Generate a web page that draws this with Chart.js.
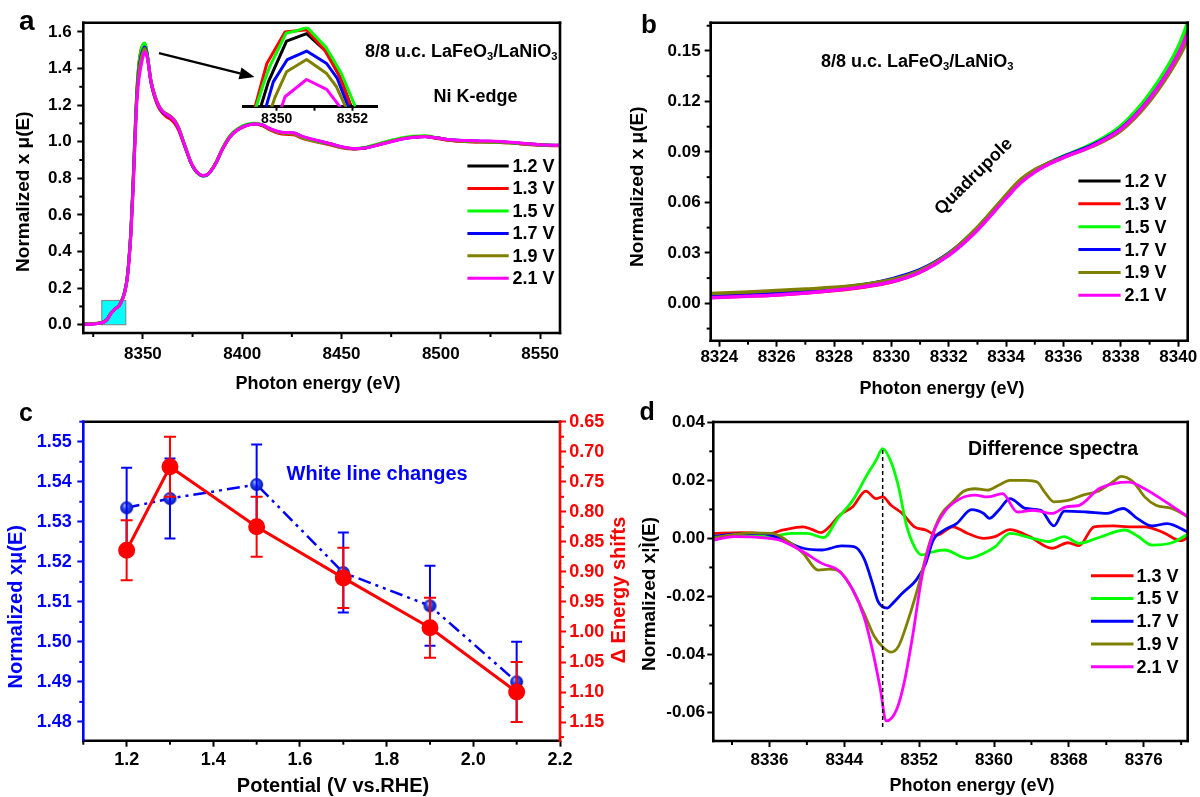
<!DOCTYPE html>
<html>
<head>
<meta charset="utf-8">
<script src="https://cdn.jsdelivr.net/npm/chart.js@4.4.1/dist/chart.umd.min.js"></script>
<style>
  body { margin: 0; background: #fff; }
  #wrap { position: relative; width: 1200px; height: 797px; overflow: hidden; background: #fff; }
  canvas { position: absolute; }
</style>
</head>
<body>
<div id="wrap">
  <canvas id="cA" width="600" height="400" style="left:0px;top:0px"></canvas>
  <canvas id="cInset" width="160" height="118" style="left:230px;top:15px"></canvas>
  <canvas id="cB" width="600" height="400" style="left:600px;top:0px"></canvas>
  <canvas id="cC" width="636" height="397" style="left:0px;top:400px"></canvas>
  <canvas id="cD" width="564" height="397" style="left:636px;top:400px"></canvas>
</div>
<script>
// ---- data ----
const legendLabels = ['1.2 V', '1.3 V', '1.5 V', '1.7 V', '1.9 V', '2.1 V'];
const lineColors = ['#000000', '#ff0000', '#00ff00', '#0000ff', '#808000', '#ff00ff'];

// panel a: Ni K-edge XANES
const aEnergy = [8320, 8324, 8328, 8330, 8332, 8334, 8336, 8338, 8340, 8341, 8342, 8343, 8344, 8345, 8346, 8347, 8348, 8349, 8350, 8350.8, 8351.5, 8352.5, 8354, 8356, 8358, 8360, 8362, 8364, 8366, 8368, 8370, 8372, 8374, 8376, 8378, 8380, 8382, 8384, 8387, 8390, 8394, 8398, 8402, 8406, 8410, 8414, 8418, 8422, 8426, 8430, 8435, 8440, 8445, 8450, 8456, 8462, 8468, 8474, 8480, 8486, 8492, 8498, 8505, 8512, 8520, 8530, 8540, 8550, 8560];
const a12 = [0.002, 0.004, 0.009, 0.0135, 0.029, 0.064, 0.087, 0.104, 0.150, 0.19, 0.25, 0.36, 0.52, 0.75, 1.03, 1.27, 1.41, 1.485, 1.52, 1.533, 1.515, 1.45, 1.33, 1.245, 1.19, 1.16, 1.145, 1.132, 1.11, 1.07, 1.01, 0.95, 0.89, 0.85, 0.826, 0.815, 0.818, 0.838, 0.89, 0.96, 1.03, 1.068, 1.088, 1.096, 1.09, 1.068, 1.052, 1.046, 1.044, 1.026, 1.01, 0.998, 0.985, 0.97, 0.962, 0.967, 0.984, 1.001, 1.016, 1.026, 1.029, 1.02, 1.008, 1.003, 1.0, 0.998, 0.99, 0.982, 0.979];
const a13 = [0.002, 0.0035, 0.0078, 0.0127, 0.0288, 0.0632, 0.0868, 0.104, 0.150, 0.19, 0.25, 0.36, 0.52, 0.76, 1.04, 1.29, 1.43, 1.50, 1.53, 1.536, 1.512, 1.44, 1.325, 1.24, 1.185, 1.155, 1.135, 1.122, 1.10, 1.062, 1.005, 0.945, 0.888, 0.848, 0.825, 0.815, 0.818, 0.838, 0.89, 0.958, 1.028, 1.066, 1.087, 1.095, 1.088, 1.064, 1.047, 1.04, 1.038, 1.02, 1.005, 0.993, 0.981, 0.967, 0.96, 0.965, 0.982, 0.999, 1.015, 1.025, 1.028, 1.018, 1.006, 1.001, 0.998, 0.996, 0.988, 0.98, 0.978];
const a15 = [0.003, 0.0058, 0.009, 0.014, 0.0295, 0.064, 0.0875, 0.1055, 0.1525, 0.193, 0.255, 0.37, 0.53, 0.77, 1.05, 1.285, 1.425, 1.495, 1.53, 1.539, 1.522, 1.46, 1.335, 1.25, 1.195, 1.165, 1.15, 1.137, 1.115, 1.075, 1.015, 0.952, 0.89, 0.85, 0.824, 0.812, 0.815, 0.836, 0.89, 0.963, 1.035, 1.074, 1.094, 1.101, 1.094, 1.07, 1.053, 1.046, 1.043, 1.024, 1.008, 0.996, 0.984, 0.97, 0.963, 0.969, 0.987, 1.005, 1.021, 1.03, 1.032, 1.022, 1.009, 1.003, 1.0, 0.997, 0.99, 0.982, 0.979];
const a17 = [0.003, 0.0052, 0.0088, 0.0145, 0.0298, 0.0638, 0.0872, 0.1038, 0.1475, 0.185, 0.245, 0.355, 0.51, 0.74, 1.01, 1.26, 1.395, 1.465, 1.50, 1.517, 1.506, 1.452, 1.335, 1.25, 1.195, 1.162, 1.146, 1.133, 1.112, 1.072, 1.012, 0.95, 0.89, 0.849, 0.824, 0.813, 0.816, 0.836, 0.888, 0.958, 1.03, 1.068, 1.089, 1.097, 1.092, 1.07, 1.055, 1.049, 1.047, 1.029, 1.013, 1.0, 0.987, 0.972, 0.962, 0.966, 0.982, 0.998, 1.014, 1.024, 1.028, 1.021, 1.01, 1.006, 1.003, 1.0, 0.992, 0.983, 0.98];
const a19 = [0.004, 0.0065, 0.0095, 0.014, 0.0295, 0.0645, 0.0868, 0.1025, 0.1455, 0.182, 0.24, 0.35, 0.505, 0.73, 1.0, 1.25, 1.38, 1.45, 1.488, 1.509, 1.497, 1.448, 1.34, 1.255, 1.2, 1.168, 1.152, 1.14, 1.118, 1.078, 1.016, 0.953, 0.892, 0.851, 0.826, 0.815, 0.818, 0.838, 0.89, 0.96, 1.031, 1.069, 1.089, 1.097, 1.091, 1.069, 1.053, 1.047, 1.045, 1.027, 1.011, 0.999, 0.986, 0.971, 0.962, 0.967, 0.984, 1.0, 1.016, 1.026, 1.03, 1.021, 1.009, 1.004, 1.001, 0.999, 0.991, 0.983, 0.98];
const a21 = [0.002, 0.0033, 0.0078, 0.0128, 0.0285, 0.0625, 0.0866, 0.1035, 0.148, 0.183, 0.24, 0.345, 0.495, 0.72, 0.99, 1.22, 1.34, 1.41, 1.46, 1.49, 1.484, 1.445, 1.335, 1.25, 1.196, 1.165, 1.148, 1.135, 1.113, 1.073, 1.012, 0.952, 0.892, 0.852, 0.827, 0.816, 0.818, 0.836, 0.887, 0.957, 1.028, 1.067, 1.088, 1.097, 1.093, 1.071, 1.056, 1.05, 1.048, 1.03, 1.014, 1.001, 0.987, 0.972, 0.963, 0.966, 0.981, 0.997, 1.013, 1.023, 1.027, 1.02, 1.01, 1.006, 1.004, 1.001, 0.993, 0.984, 0.98];
const aXTicks = [8350, 8400, 8450, 8500, 8550];
const aYTicks = [0.0, 0.2, 0.4, 0.6, 0.8, 1.0, 1.2, 1.4, 1.6];
const aBoxX = [8329.3, 8341.4];   // highlighted pre-edge region
const aBoxY = [0.0, 0.133];

// inset of panel a (white line peak)
const insXTicks = [8350, 8351, 8352];
const ins12E = [8349.58, 8349.78, 8350.26, 8350.79, 8351.32, 8351.67, 8351.97];
const ins12 = [1.4645, 1.4878, 1.526, 1.533, 1.516, 1.4925, 1.4645];
const ins13E = [8349.43, 8349.74, 8350.22, 8350.79, 8351.27, 8351.67, 8351.93];
const ins13 = [1.4645, 1.505, 1.5345, 1.5367, 1.5174, 1.4925, 1.4676];
const ins15E = [8349.46, 8349.65, 8349.81, 8350.25, 8350.5, 8350.8, 8351.3, 8351.71, 8352.06];
const ins15 = [1.4645, 1.486, 1.5018, 1.5335, 1.5354, 1.539, 1.5205, 1.4956, 1.466];
const ins17E = [8349.72, 8349.91, 8350.28, 8350.79, 8351.32, 8351.6, 8351.89];
const ins17 = [1.4645, 1.4878, 1.5087, 1.5167, 1.505, 1.491, 1.4645];
const ins19E = [8349.87, 8349.96, 8350.26, 8350.79, 8351.32, 8351.58, 8351.82];
const ins19 = [1.4645, 1.4738, 1.4972, 1.5087, 1.4956, 1.4832, 1.4645];
const ins21E = [8350.13, 8350.22, 8350.79, 8351.32, 8351.67];
const ins21 = [1.4645, 1.4738, 1.490, 1.4807, 1.4645];

// panel b: pre-edge (quadrupole)
const bEnergy = [8323.7, 8325, 8326, 8327, 8328, 8329, 8330, 8331, 8332, 8333, 8334, 8334.5, 8335, 8335.5, 8336, 8337, 8338, 8339, 8340, 8340.33];
const b12 = [0.0045, 0.0055, 0.0062, 0.0072, 0.0085, 0.0105, 0.0135, 0.019, 0.0292, 0.0445, 0.0638, 0.0725, 0.079, 0.0835, 0.0872, 0.0942, 0.1045, 0.123, 0.1505, 0.1638];
const b13 = [0.0035, 0.0043, 0.0050, 0.0061, 0.0076, 0.0096, 0.0126, 0.0185, 0.029, 0.044, 0.063, 0.072, 0.0785, 0.083, 0.087, 0.094, 0.104, 0.1225, 0.150, 0.1635];
const b15 = [0.0048, 0.0058, 0.0066, 0.0076, 0.009, 0.011, 0.014, 0.0195, 0.0295, 0.045, 0.064, 0.0728, 0.079, 0.0835, 0.0875, 0.0948, 0.1055, 0.1245, 0.1525, 0.1668];
const b17 = [0.0042, 0.0052, 0.006, 0.0072, 0.0088, 0.011, 0.0145, 0.02, 0.0298, 0.0448, 0.0638, 0.0725, 0.0788, 0.0833, 0.0872, 0.094, 0.1038, 0.1215, 0.1475, 0.159];
const b19 = [0.0058, 0.0068, 0.0076, 0.0085, 0.0095, 0.0112, 0.014, 0.0195, 0.0295, 0.0452, 0.0645, 0.0735, 0.0795, 0.0835, 0.0868, 0.0932, 0.1025, 0.120, 0.1455, 0.1565];
const b21 = [0.0033, 0.0042, 0.005, 0.0062, 0.0078, 0.0098, 0.0128, 0.0185, 0.0285, 0.0435, 0.0625, 0.0715, 0.078, 0.0828, 0.0866, 0.0935, 0.1035, 0.1215, 0.148, 0.1605];
const bXTicks = [8324, 8326, 8328, 8330, 8332, 8334, 8336, 8338, 8340];
const bYTicks = [0.00, 0.03, 0.06, 0.09, 0.12, 0.15];

// panel c: white line intensity and edge energy shift vs potential
const cPotential = [1.2, 1.3, 1.5, 1.7, 1.9, 2.1];
const cWhiteLine = [1.5335, 1.5358, 1.5393, 1.5173, 1.509, 1.490];
const cWhiteErr = [0.01, 0.01, 0.01, 0.01, 0.01, 0.01];
const cShift = [0.864, 0.725, 0.825, 0.910, 0.993, 1.100];
const cShiftErr = [0.05, 0.05, 0.05, 0.05, 0.05, 0.05];
const cXTicks = [1.2, 1.4, 1.6, 1.8, 2.0, 2.2];
const cYTicks = [1.48, 1.49, 1.50, 1.51, 1.52, 1.53, 1.54, 1.55];
const cY2Ticks = [0.65, 0.70, 0.75, 0.80, 0.85, 0.90, 0.95, 1.00, 1.05, 1.10, 1.15];

// panel d: difference spectra
const d13E = [8330, 8333, 8336, 8337.5, 8339.6, 8340.6, 8341.5, 8342.4, 8343.5, 8344.9, 8346.3, 8347.4, 8348.1, 8349, 8350.2, 8351.5, 8352.7, 8353.9, 8355.6, 8357.2, 8358.9, 8360.1, 8361.7, 8363.8, 8366.2, 8367.9, 8369.1, 8370.7, 8372.8, 8374.4, 8376.1, 8378.1, 8380, 8381];
const d13 = [0.0017, 0.002, 0.0017, 0.0029, 0.004, 0.003, 0.002, 0.004, 0.008, 0.0109, 0.0163, 0.0137, 0.0143, 0.0114, 0.0086, 0.004, 0.0029, 0.0011, 0.004, 0.0017, 0.0, 0.0006, 0.003, 0.0006, -0.0034, -0.0015, -0.0025, 0.004, 0.0043, 0.004, 0.004, 0.002, -0.0008, 0.0011];
const d15E = [8330, 8334.2, 8336, 8338.3, 8340, 8341.8, 8343.3, 8344.9, 8346.5, 8347.4, 8348.1, 8349, 8349.8, 8350.6, 8351.5, 8352.3, 8353.5, 8354.7, 8357.2, 8358.9, 8360.1, 8361.7, 8363.8, 8365.8, 8367.5, 8369.1, 8371.2, 8374, 8375.3, 8376.9, 8379, 8381];
const d15 = [0.0006, 0.001, 0.0006, 0.0017, 0.0017, 0.0003, 0.0069, 0.0131, 0.0223, 0.0269, 0.0309, 0.0263, 0.0177, 0.0051, -0.0029, -0.0057, -0.0046, -0.004, -0.0069, -0.0051, -0.0029, 0.0017, 0.0003, -0.0011, 0.0006, -0.0017, 0.0003, 0.0029, 0.0009, -0.0023, -0.0015, 0.002];
const d17E = [8330, 8332.2, 8335.1, 8337.1, 8339.6, 8341.6, 8343.7, 8345.1, 8346.1, 8347, 8347.6, 8348.6, 8349.2, 8350.2, 8351.7, 8352.7, 8353.5, 8354.7, 8356, 8357.6, 8358.9, 8359.5, 8360.5, 8361.7, 8363.4, 8365, 8366.4, 8367.5, 8369.9, 8372, 8373.8, 8375.3, 8376.9, 8378.5, 8381];
const d17 = [0.0006, 0.0015, 0.0017, 0.0, -0.0034, -0.004, -0.0026, -0.0029, -0.0069, -0.0154, -0.0217, -0.024, -0.0223, -0.0189, -0.0143, -0.0086, -0.0006, 0.0029, 0.0051, 0.0099, 0.0086, 0.0069, 0.0097, 0.0137, 0.0103, 0.0097, 0.0043, 0.0094, 0.0091, 0.0086, 0.0103, 0.0069, 0.0043, 0.0051, 0.0017];
const d19E = [8330, 8334.2, 8336.3, 8338.3, 8339.6, 8341.2, 8342.4, 8343.5, 8344.9, 8346.1, 8347.2, 8348.2, 8349, 8349.8, 8350.6, 8351.9, 8353.1, 8354.3, 8355.6, 8356.8, 8358, 8359.3, 8360.5, 8361.7, 8363.4, 8364.6, 8365.4, 8366.4, 8367.9, 8369.5, 8371.2, 8372.8, 8373.6, 8374.9, 8376.1, 8377.3, 8379, 8381];
const d19 = [0.0003, 0.0019, 0.0017, -0.0017, -0.0051, -0.0109, -0.0106, -0.0114, -0.0177, -0.0257, -0.0337, -0.0377, -0.0392, -0.0371, -0.0303, -0.0166, -0.0017, 0.008, 0.0126, 0.0163, 0.0171, 0.0166, 0.0183, 0.02, 0.02, 0.0194, 0.016, 0.0126, 0.0131, 0.0149, 0.0163, 0.0197, 0.0214, 0.0194, 0.0143, 0.0114, 0.0103, 0.0069];
const d21E = [8330, 8332.2, 8335.1, 8337.1, 8339.6, 8341.6, 8343.5, 8344.9, 8346.1, 8347, 8347.8, 8348.5, 8349.6, 8350.4, 8351.3, 8352.3, 8353.5, 8354.7, 8356.4, 8358, 8359.3, 8360.9, 8362.5, 8364.2, 8366.2, 8367.7, 8369.1, 8371.2, 8372.8, 8374.4, 8376.1, 8378.1, 8381];
const d21 = [-0.0006, 0.0006, 0.0003, -0.0006, -0.0046, -0.0086, -0.0114, -0.0177, -0.0269, -0.0383, -0.0509, -0.0629, -0.0589, -0.0497, -0.0337, -0.0131, 0.0017, 0.0091, 0.0137, 0.0149, 0.0143, 0.0154, 0.0091, 0.0097, 0.0086, 0.0109, 0.0114, 0.0171, 0.0189, 0.0194, 0.0171, 0.0131, 0.0069];
const dXTicks = [8336, 8344, 8352, 8360, 8368, 8376];
const dYTicks = [-0.06, -0.04, -0.02, 0.00, 0.02, 0.04];
const dPeakLineX = 8348.1;
const dPeakLineY = [-0.065, 0.031];

// ---- helpers ----
const FONT = '"Liberation Sans", Arial, Helvetica, sans-serif';
Chart.defaults.font.family = FONT;
Chart.defaults.font.weight = 'bold';
Chart.defaults.color = '#000';

function lineSet(label, xs, ys, color, width, order) {
  return {
    label, data: xs.map((x, j) => ({ x, y: ys[j] })),
    borderColor: color, backgroundColor: color, borderWidth: width,
    pointRadius: 0, fill: false, order,
    cubicInterpolationMode: 'monotone', borderJoinStyle: 'round', borderCapStyle: 'round'
  };
}

function axisCfg(o) {
  const horiz = o.pos === 'bottom';
  return {
    type: 'linear', position: o.pos, min: o.min, max: o.max, reverse: !!o.reverse,
    afterBuildTicks: s => { s.ticks = o.ticks.map(v => ({ value: v })); },
    afterFit: s => { if (horiz) s.height = o.size; else s.width = o.size; },
    border: { display: false },
    grid: { drawOnChartArea: false, drawTicks: true, tickLength: o.tl || 6, tickWidth: 2, tickColor: o.color || '#000' },
    ticks: {
      color: o.color || '#000', padding: o.pad, autoSkip: false, maxRotation: 0,
      font: { size: o.font || 17, weight: 'bold' }, callback: o.fmt
    },
    title: { display: false }
  };
}

function baseOpts(padding, scales) {
  return {
    responsive: false, animation: false, devicePixelRatio: 1,
    layout: { padding },
    plugins: { legend: { display: false }, tooltip: { enabled: false } },
    scales
  };
}

function drawText(ctx, t, ox, oy) {
  const runs = typeof t.text === 'string' ? [{ t: t.text }] : t.text;
  const size = t.size;
  const fontOf = r => `bold ${r.sub ? size * 0.62 : size}px ${FONT}`;
  ctx.save();
  ctx.translate(t.x - ox, t.y - oy);
  if (t.rot) ctx.rotate(t.rot * Math.PI / 180);
  ctx.fillStyle = t.color || '#000';
  ctx.textBaseline = t.base || 'middle';
  ctx.textAlign = 'left';
  let total = 0;
  runs.forEach(r => { ctx.font = fontOf(r); total += ctx.measureText(r.t).width; });
  let cx = t.align === 'center' ? -total / 2 : 0;
  runs.forEach(r => {
    ctx.font = fontOf(r);
    ctx.fillText(r.t, cx, r.sub ? size * 0.3 : 0);
    cx += ctx.measureText(r.t).width;
  });
  ctx.restore();
}

// frame, minor ticks, legend, labels, error bars drawn on top of the chart
function decor(cfg) {
  const ox = cfg.ox || 0, oy = cfg.oy || 0;
  return {
    id: 'decor',
    beforeDatasetsDraw(chart) {
      if (!cfg.box) return;
      const { x, y } = chart.scales, ctx = chart.ctx;
      const x0 = x.getPixelForValue(cfg.box.x[0]), x1 = x.getPixelForValue(cfg.box.x[1]);
      const y0 = y.getPixelForValue(cfg.box.y[1]), y1 = y.getPixelForValue(cfg.box.y[0]);
      ctx.save();
      ctx.fillStyle = '#00ffff';
      ctx.fillRect(x0, y0, x1 - x0, y1 - y0);
      ctx.strokeStyle = '#808080'; ctx.lineWidth = 1;
      ctx.strokeRect(x0, y0, x1 - x0, y1 - y0);
      ctx.restore();
    },
    afterDatasetDraw(chart, args) {
      const e = cfg.errors && cfg.errors[args.index];
      if (!e) return;
      const meta = args.meta, ys = meta.yScale, ctx = chart.ctx;
      const ds = chart.data.datasets[args.index];
      ctx.save();
      ctx.strokeStyle = e.color; ctx.lineWidth = 2;
      meta.data.forEach((pt, j) => {
        const v = ds.data[j].y;
        const yt = ys.getPixelForValue(v + e.err[j]), yb = ys.getPixelForValue(v - e.err[j]);
        ctx.beginPath();
        ctx.moveTo(pt.x, yt); ctx.lineTo(pt.x, yb);
        ctx.moveTo(pt.x - e.cap, yt); ctx.lineTo(pt.x + e.cap, yt);
        ctx.moveTo(pt.x - e.cap, yb); ctx.lineTo(pt.x + e.cap, yb);
        ctx.stroke();
      });
      ctx.restore();
    },
    afterDatasetsDraw(chart) {
      const ctx = chart.ctx, { x, y } = chart.scales;
      if (cfg.vline) {
        const px = x.getPixelForValue(cfg.vline.x);
        ctx.save();
        ctx.strokeStyle = '#000'; ctx.lineWidth = 1.5; ctx.setLineDash([4, 3]);
        ctx.beginPath();
        ctx.moveTo(px, y.getPixelForValue(cfg.vline.y[0]));
        ctx.lineTo(px, y.getPixelForValue(cfg.vline.y[1]));
        ctx.stroke();
        ctx.restore();
      }
      if (cfg.arrow) {
        const a = cfg.arrow;
        const x0 = x.getPixelForValue(a.from[0]), y0 = y.getPixelForValue(a.from[1]);
        const x1 = x.getPixelForValue(a.to[0]), y1 = y.getPixelForValue(a.to[1]);
        const ang = Math.atan2(y1 - y0, x1 - x0), hl = 15, hw = 6;
        ctx.save();
        ctx.strokeStyle = '#000'; ctx.fillStyle = '#000'; ctx.lineWidth = 2.2;
        ctx.beginPath();
        ctx.moveTo(x0, y0);
        ctx.lineTo(x1 - hl * Math.cos(ang), y1 - hl * Math.sin(ang));
        ctx.stroke();
        ctx.beginPath();
        ctx.moveTo(x1, y1);
        ctx.lineTo(x1 - hl * Math.cos(ang) + hw * Math.sin(ang), y1 - hl * Math.sin(ang) - hw * Math.cos(ang));
        ctx.lineTo(x1 - hl * Math.cos(ang) - hw * Math.sin(ang), y1 - hl * Math.sin(ang) + hw * Math.cos(ang));
        ctx.closePath();
        ctx.fill();
        ctx.restore();
      }
    },
    afterDraw(chart) {
      const ctx = chart.ctx, a = chart.chartArea;
      ctx.save();
      if (cfg.frame) {
        const f = cfg.frame;
        ctx.lineWidth = 2.6; ctx.lineCap = 'square';
        const side = (x0, y0, x1, y1, c) => {
          ctx.strokeStyle = c; ctx.beginPath(); ctx.moveTo(x0, y0); ctx.lineTo(x1, y1); ctx.stroke();
        };
        side(a.left, a.top, a.right, a.top, f.top || '#000');
        side(a.left, a.bottom, a.right, a.bottom, f.bottom || '#000');
        side(a.right, a.top, a.right, a.bottom, f.right || '#000');
        side(a.left, a.top, a.left, a.bottom, f.left || '#000');
      }
      (cfg.minor || []).forEach(m => {
        const s = chart.scales[m.id];
        ctx.strokeStyle = m.color || '#000'; ctx.lineWidth = 2; ctx.lineCap = 'butt';
        for (let k = 0; ; k++) {
          const v = m.from + k * m.step;
          if (v > Math.max(s.min, s.max) + 1e-9) break;
          if (v < Math.min(s.min, s.max) - 1e-9) continue;
          const p = s.getPixelForValue(v);
          ctx.beginPath();
          if (s.position === 'bottom') { ctx.moveTo(p, a.bottom); ctx.lineTo(p, a.bottom + 4); }
          else if (s.position === 'left') { ctx.moveTo(a.left, p); ctx.lineTo(a.left - 4, p); }
          else { ctx.moveTo(a.right, p); ctx.lineTo(a.right + 4, p); }
          ctx.stroke();
        }
      });
      if (cfg.legend) {
        const L = cfg.legend;
        chart.data.datasets.forEach((ds, i) => {
          const yy = L.y0 + i * L.dy - oy;
          ctx.strokeStyle = ds.borderColor; ctx.lineWidth = 3; ctx.lineCap = 'butt';
          ctx.beginPath(); ctx.moveTo(L.x0 - ox, yy); ctx.lineTo(L.x1 - ox, yy); ctx.stroke();
          ctx.fillStyle = '#000'; ctx.font = `bold ${L.size}px ${FONT}`;
          ctx.textBaseline = 'middle'; ctx.textAlign = 'left';
          ctx.fillText(ds.label, L.tx - ox, yy + 1);
        });
      }
      ctx.restore();
      (cfg.texts || []).forEach(t => drawText(ctx, t, ox, oy));
    }
  };
}

const oxide = [{ t: '8/8 u.c. LaFeO' }, { t: '3', sub: true }, { t: '/LaNiO' }, { t: '3', sub: true }];

// ---- panel a ----
const aSeries = [a12, a13, a15, a17, a19, a21];
new Chart(document.getElementById('cA'), {
  type: 'line',
  data: { datasets: aSeries.map((v, i) => lineSet(legendLabels[i], aEnergy, v, lineColors[i], 3, aSeries.length - i)) },
  options: baseOpts({ left: 0, top: 22.7, right: 40, bottom: 0 }, {
    x: axisCfg({ pos: 'bottom', min: 8320, max: 8560, ticks: aXTicks, size: 67, pad: 5, fmt: v => String(v) }),
    y: axisCfg({ pos: 'left', min: -0.045, max: 1.65, ticks: aYTicks, size: 83.3, pad: 5.6, fmt: v => v.toFixed(1) })
  }),
  plugins: [decor({
    frame: {},
    box: { x: aBoxX, y: aBoxY },
    arrow: { from: [8358.1, 1.484], to: [8406.2, 1.353] },
    minor: [{ id: 'x', from: 8325, step: 50 }, { id: 'y', from: 0.1, step: 0.2 }],
    legend: { x0: 467.4, x1: 508.7, tx: 512.5, y0: 166, dy: 22.46, size: 18 },
    texts: [
      { text: 'a', x: 19, y: 29.5, size: 28, base: 'alphabetic' },
      { text: oxide, x: 365, y: 51.7, size: 18 },
      { text: 'Ni K-edge', x: 433.4, y: 97.3, size: 18 },
      { text: 'Normalized x \u03bc(E)', x: 23.5, y: 191.7, size: 19, rot: -90, align: 'center' },
      { text: 'Photon energy (eV)', x: 318, y: 384, size: 18, align: 'center' }
    ]
  })]
});

// inset: zoom on the white line
const insSeries = [[ins12E, ins12], [ins13E, ins13], [ins15E, ins15], [ins17E, ins17], [ins19E, ins19], [ins21E, ins21]];
const insX = axisCfg({ pos: 'bottom', min: 8349.11, max: 8352.65, ticks: insXTicks, size: 26.3, pad: 0, tl: 4, font: 14, fmt: v => (v === 8351 ? '' : String(v)) });
insX.border = { display: true, width: 3, color: '#000' };
new Chart(document.getElementById('cInset'), {
  type: 'line',
  data: {
    datasets: insSeries.map((s, i) => Object.assign(lineSet(legendLabels[i], s[0], s[1], lineColors[i], 3, insSeries.length - i), { cubicInterpolationMode: 'default', tension: 0 }))
  },
  options: baseOpts({ left: 13, top: 11.7, right: 13, bottom: 0 }, {
    x: insX,
    y: { type: 'linear', display: false, min: 1.4645, max: 1.5395 }
  })
});

// ---- panel b ----
const bSeries = [b12, b13, b15, b17, b19, b21];
new Chart(document.getElementById('cB'), {
  type: 'line',
  data: { datasets: bSeries.map((v, i) => lineSet(legendLabels[i], bEnergy, v, lineColors[i], 3.5, bSeries.length - i)) },
  options: baseOpts({ left: 0, top: 22.7, right: 12.3, bottom: 0 }, {
    x: axisCfg({ pos: 'bottom', min: 8323.7, max: 8340.33, ticks: bXTicks, size: 59.3, pad: 0, fmt: v => String(v) }),
    y: axisCfg({ pos: 'left', min: -0.0222, max: 0.1668, ticks: bYTicks, size: 110.7, pad: 4, fmt: v => v.toFixed(2) })
  }),
  plugins: [decor({
    ox: 600, oy: 0,
    frame: {},
    minor: [{ id: 'x', from: 8325, step: 2 }, { id: 'y', from: -0.015, step: 0.03 }],
    legend: { x0: 1078.4, x1: 1120.6, tx: 1124.4, y0: 181, dy: 22.86, size: 18 },
    texts: [
      { text: 'b', x: 641, y: 32.7, size: 26, base: 'alphabetic' },
      { text: oxide, x: 820.9, y: 61.7, size: 18 },
      { text: 'Quadrupole', x: 973.8, y: 176.7, size: 18, rot: -44.5, align: 'center' },
      { text: 'Normalized x \u03bc(E)', x: 637.7, y: 186.7, size: 19, rot: -90, align: 'center' },
      { text: 'Photon energy (eV)', x: 942, y: 389, size: 18, align: 'center' }
    ]
  })]
});

// ---- panel c ----
function sphere(r) {
  const c = document.createElement('canvas');
  c.width = c.height = 2 * r + 2;
  const g = c.getContext('2d');
  const grd = g.createRadialGradient(r * 0.75 + 1, r * 0.6 + 1, 0.5, r + 1, r + 1, r);
  grd.addColorStop(0, '#a8b8ff');
  grd.addColorStop(0.45, '#2546ee');
  grd.addColorStop(1, '#0714a8');
  g.fillStyle = grd;
  g.beginPath(); g.arc(r + 1, r + 1, r, 0, Math.PI * 2); g.fill();
  return c;
}
new Chart(document.getElementById('cC'), {
  type: 'line',
  data: {
    datasets: [
      {
        label: 'White line', data: cPotential.map((x, i) => ({ x, y: cWhiteLine[i] })), yAxisID: 'y',
        borderColor: '#0000ff', borderWidth: 2.5, borderDash: [13, 5, 3, 5, 3, 5],
        pointStyle: sphere(6.5), pointRadius: 6.5, tension: 0, order: 2
      },
      {
        label: 'Energy shift', data: cPotential.map((x, i) => ({ x, y: cShift[i] })), yAxisID: 'y2',
        borderColor: '#ff0000', borderWidth: 3, pointRadius: 7, pointBackgroundColor: '#ff0000',
        pointBorderColor: '#ff0000', tension: 0, order: 1
      }
    ]
  },
  options: baseOpts({ left: 0, top: 21.7, right: 0, bottom: 0 }, {
    x: axisCfg({ pos: 'bottom', min: 1.1, max: 2.2, ticks: cXTicks, size: 56.3, pad: 2.5, font: 18, fmt: v => v.toFixed(1) }),
    y: axisCfg({ pos: 'left', min: 1.4753, max: 1.555, ticks: cYTicks, size: 83.3, pad: 5.5, font: 18, color: '#0000ff', fmt: v => v.toFixed(2) }),
    y2: axisCfg({ pos: 'right', min: 0.65, max: 1.181, reverse: true, ticks: cY2Ticks, size: 76, pad: 3.3, font: 18, color: '#ff0000', fmt: v => v.toFixed(2) })
  }),
  plugins: [decor({
    ox: 0, oy: 400,
    frame: { left: '#0000ff', right: '#ff0000' },
    errors: { 0: { err: cWhiteErr, color: '#0000ff', cap: 5.5 }, 1: { err: cShiftErr, color: '#ff0000', cap: 6 } },
    minor: [
      { id: 'x', from: 1.1, step: 0.2 },
      { id: 'y', from: 1.485, step: 0.01, color: '#0000ff' },
      { id: 'y2', from: 0.675, step: 0.05, color: '#ff0000' }
    ],
    texts: [
      { text: 'c', x: 19, y: 421, size: 25, base: 'alphabetic' },
      { text: 'White line changes', x: 286.6, y: 474, size: 20, color: '#0000ff' },
      { text: 'Normalized x\u03bc(E)', x: 16, y: 606.7, size: 20, rot: -90, align: 'center', color: '#0000ff' },
      { text: '\u0394 Energy shifts', x: 619, y: 590, size: 20, rot: -90, align: 'center', color: '#ff0000' },
      { text: 'Potential (V vs.RHE)', x: 333, y: 786, size: 20, align: 'center' }
    ]
  })]
});

// ---- panel d ----
const dSeries = [[d13E, d13], [d15E, d15], [d17E, d17], [d19E, d19], [d21E, d21]];
const dLabels = legendLabels.slice(1);
const dColors = lineColors.slice(1);
new Chart(document.getElementById('cD'), {
  type: 'line',
  data: { datasets: dSeries.map((s, i) => lineSet(dLabels[i], s[0], s[1], dColors[i], 2.8, dSeries.length - i)) },
  options: baseOpts({ left: 0, top: 22, right: 12.3, bottom: 0 }, {
    x: axisCfg({ pos: 'bottom', min: 8330, max: 8380.7, ticks: dXTicks, size: 56, pad: 2.8, fmt: v => String(v) }),
    y: axisCfg({ pos: 'left', min: -0.0698, max: 0.0401, ticks: dYTicks, size: 77.3, pad: 2.3, fmt: v => v.toFixed(2) })
  }),
  plugins: [decor({
    ox: 636, oy: 400,
    frame: {},
    vline: { x: dPeakLineX, y: dPeakLineY },
    minor: [{ id: 'x', from: 8332, step: 8 }, { id: 'y', from: -0.07, step: 0.02 }],
    legend: { x0: 1091, x1: 1133.5, tx: 1136.6, y0: 575.7, dy: 22.75, size: 18 },
    texts: [
      { text: 'd', x: 639.5, y: 420, size: 25, base: 'alphabetic' },
      { text: 'Difference spectra', x: 968, y: 449.3, size: 19.5 },
      { text: 'Normalized x\u00a6\u00cc(E)', x: 650, y: 594, size: 19, rot: -90, align: 'center' },
      { text: 'Photon energy (eV)', x: 972, y: 786.5, size: 18, align: 'center' }
    ]
  })]
});
</script>
</body>
</html>
